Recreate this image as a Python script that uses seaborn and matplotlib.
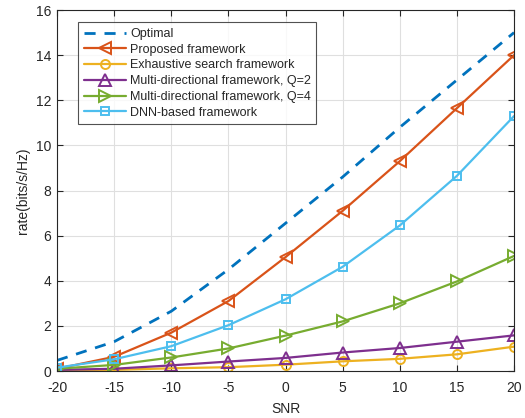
import pandas as pd
import matplotlib
matplotlib.use("Agg")
import matplotlib.pyplot as plt
import seaborn as sns

# SNR-Werte
snr = [-20, -15, -10, -5, 0, 5, 10, 15, 20]

optimal = [0.47, 1.3, 2.65, 4.5, 6.55, 8.6, 10.8, 12.9, 15.0]
proposed = [0.1, 0.63, 1.7, 3.1, 5.05, 7.1, 9.3, 11.65, 14.0]
exhaustive = [0.02, 0.05, 0.12, 0.17, 0.28, 0.43, 0.54, 0.74, 1.08]
multi_q2 = [0.05, 0.1, 0.25, 0.42, 0.58, 0.82, 1.02, 1.3, 1.58]
multi_q4 = [0.1, 0.27, 0.6, 1.0, 1.57, 2.2, 3.0, 3.97, 5.1]
dnn = [0.15, 0.52, 1.1, 2.03, 3.18, 4.62, 6.45, 8.65, 11.3]

labels = ["Optimal", "Proposed framework", "Exhaustive search framework",
          "Multi-directional framework, Q=2", "Multi-directional framework, Q=4",
          "DNN-based framework"]

sns.set_style("whitegrid")
plt.rcParams['font.family'] = ['Liberation Sans', 'DejaVu Sans']
plt.rcParams['axes.unicode_minus'] = False

fig = plt.figure(figsize=(5.25, 4.18), dpi=100)
ax = fig.add_axes([0.1086, 0.1124, 0.8705, 0.8636])

series = [optimal, proposed, exhaustive, multi_q2, multi_q4, dnn]
colors = ["#0072BD", "#D95319", "#EDB120", "#7E2F8E", "#77AC30", "#4DBEEE"]
markers = [None, "<", "o", "^", ">", "s"]
sizes = [0, 8, 6.5, 8, 8, 5.5]

for vals, lab, col, mk, ms in zip(series, labels, colors, markers, sizes):
    df = pd.DataFrame({"snr": snr, "rate": vals})
    if mk is None:
        sns.lineplot(data=df, x="snr", y="rate", ax=ax, color=col, lw=2,
                     linestyle=(0, (4, 3.2)), label=lab)
    else:
        sns.lineplot(data=df, x="snr", y="rate", ax=ax, color=col, lw=1.6,
                     marker=mk, markersize=ms, markerfacecolor="none",
                     markeredgecolor=col, markeredgewidth=1.4, label=lab)

ax.set_xlim(-20, 20)
ax.set_ylim(0, 16)
ax.set_xticks(range(-20, 21, 5))
ax.set_yticks(range(0, 17, 2))
ax.set_xlabel("SNR", fontsize=10, labelpad=5)
ax.set_ylabel("rate(bits/s/Hz)", fontsize=10, labelpad=4)
ax.tick_params(labelsize=10, direction="in", length=4, top=True, right=True,
               bottom=True, left=True, colors="#262626", pad=4)
ax.tick_params(axis="x", pad=7)
ax.grid(True, color="#dfdfdf", lw=0.8)
for s in ax.spines.values():
    s.set_color("#262626")
    s.set_linewidth(0.8)

leg = ax.legend(loc="upper left", bbox_to_anchor=(0.046, 0.966), fontsize=9,
                frameon=True, fancybox=False, handlelength=3.4,
                handletextpad=0.3, labelspacing=0.3, borderpad=0.45,
                borderaxespad=0)
leg.get_frame().set_edgecolor("#262626")
leg.get_frame().set_linewidth(0.8)

plt.savefig("out.png", dpi=100)
